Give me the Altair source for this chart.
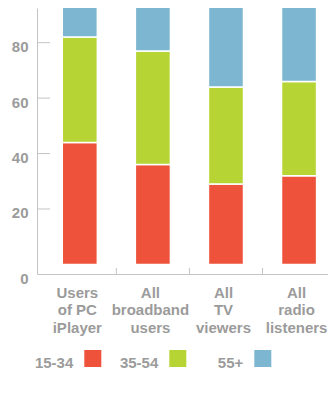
import altair as alt
import pandas as pd

categories = ["Users\nof PC\niPlayer", "All\nbroadband\nusers", "All\nTV\nviewers", "All\nradio\nlisteners"]
groups = ["15-34", "35-54", "55+"]
share_15_34 = [44, 36, 29, 32]
share_35_54 = [38, 41, 35, 34]
share_55_plus = [18, 23, 36, 34]
colors = ["#EE523A", "#B6D434", "#7DB6D0"]
y_ticks = [0, 20, 40, 60, 80]

Y_MIN, Y_MAX = -3.46, 92.5
FONT = "Liberation Sans"
GREY_TXT = "#9b9b9b"
GREY_LINE = "#c4c4c4"

rows = []
for i, c in enumerate(categories):
    for g, (name, vals) in enumerate(zip(groups, [share_15_34, share_35_54, share_55_plus])):
        rows.append({"cat": c, "group": name, "ord": g, "pct": vals[i]})
df = pd.DataFrame(rows)

xscale = alt.Scale(domain=categories, paddingInner=0.52, paddingOuter=0.251, align=0.689)
yscale = alt.Scale(domain=[Y_MIN, Y_MAX], nice=False, zero=False)
cscale = alt.Scale(domain=groups, range=colors)

bars = alt.Chart(df).mark_bar(clip=True, stroke="white", strokeWidth=1.5).encode(
    x=alt.X("cat:N", scale=xscale, sort=categories, title=None,
            axis=alt.Axis(labelAngle=0, ticks=False, domain=True, domainColor=GREY_LINE,
                          domainWidth=1, labelPadding=11, labelOffset=-2.5, labelFont=FONT,
                          labelFontSize=15, labelFontWeight="bold", labelColor=GREY_TXT,
                          labelLineHeight=17.5, labelLimit=0,
                          labelExpr="split(datum.label, '\\n')")),
    y=alt.Y("pct:Q", scale=yscale, stack="zero", title=None,
            axis=alt.Axis(values=[Y_MIN] + y_ticks[1:], ticks=False, grid=False, domain=True,
                          domainColor=GREY_LINE, domainWidth=1, labelPadding=9, labelOffset=4,
                          labelFont=FONT, labelFontSize=15, labelFontWeight="bold",
                          labelColor=GREY_TXT, labelOverlap=False,
                          labelExpr="datum.value < 0 ? '0' : format(datum.value, 'd')")),
    color=alt.Color("group:N", scale=cscale, legend=None),
    order=alt.Order("ord:Q"),
)

ytick_df = pd.DataFrame({"tick": y_ticks[1:]})
yticks = alt.Chart(ytick_df).mark_rule(color=GREY_LINE, strokeWidth=1).encode(
    y=alt.Y("tick:Q", scale=yscale, title=None),
    x=alt.value(0), x2=alt.value(13),
)

xtick_df = pd.DataFrame({"cat": categories})
xticks = alt.Chart(xtick_df).mark_rule(color=GREY_LINE, strokeWidth=1, xOffset=19).encode(
    x=alt.X("cat:N", scale=xscale, sort=categories, bandPosition=1, title=None),
    y=alt.value(260), y2=alt.value(266),
)

main = alt.layer(bars, yticks, xticks)

# hand-made legend: label to the left of each swatch
legend_df = pd.DataFrame({"group": groups})
lscale = alt.Scale(domain=groups, type="point", range=[55.8, 225.8], padding=0)
leg_sw = alt.Chart(legend_df).mark_square(size=289, opacity=1, strokeWidth=0).encode(
    x=alt.X("group:N", scale=lscale, axis=None),
    y=alt.value(350.5),
    color=alt.Color("group:N", scale=cscale, legend=None),
)
leg_tx = alt.Chart(legend_df).mark_text(
    align="right", baseline="alphabetic", dx=-19.5, dy=9.8,
    font=FONT, fontSize=15, fontWeight="bold", color=GREY_TXT,
).encode(
    x=alt.X("group:N", scale=lscale, axis=None),
    y=alt.value(350.5),
    text="group:N",
)
legend = alt.layer(leg_sw, leg_tx)

chart = alt.layer(main, legend).resolve_scale(x="independent").properties(
    width=291, height=266,
    autosize=alt.AutoSizeParams(type="none"),
    padding={"left": 29, "top": 0, "right": 0, "bottom": 110},
    background="white",
).configure_view(stroke=None)

chart.save("out.html", embed_options={"renderer": "svg", "actions": False})
